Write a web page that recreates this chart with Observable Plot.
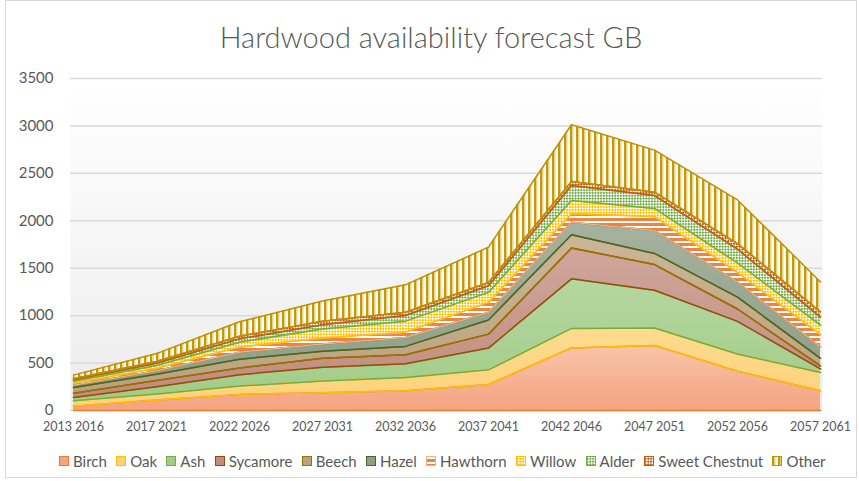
<!DOCTYPE html>
<html><head><meta charset="utf-8">
<script src="https://cdn.jsdelivr.net/npm/d3@7"></script>
<script src="https://cdn.jsdelivr.net/npm/@observablehq/plot@0.6"></script>
<style>
body{margin:0;background:#fff;font-family:Lato,"Open Sans",sans-serif;}
#chart{position:relative;width:859px;height:481px;overflow:hidden;background:#fff}
#border{position:absolute;left:5px;top:0px;width:852px;height:478px;border:1px solid #d9d9d9;box-sizing:border-box}
#title{position:absolute;top:19px;left:5px;width:852px;text-align:center;font-size:29px;font-weight:300;color:#595959;line-height:36px}
#plot{position:absolute;top:60px;left:0}
#legend{position:absolute;top:452px;left:59px;display:flex;align-items:center;font-size:15px;color:#595959;white-space:nowrap}
#legend .item{display:flex;align-items:center;margin-right:9.3px}
#legend svg{margin-right:4px}
</style>
</head><body>
<svg width="0" height="0" style="position:absolute">
<defs>
<linearGradient id="bg" x1="0" y1="0" x2="0" y2="1"><stop offset="0" stop-color="#ffffff"/><stop offset="1" stop-color="#ececec"/></linearGradient>
<linearGradient id="gBirch" x1="0" y1="0" x2="0" y2="1"><stop offset="0" stop-color="#F8C4AA"/><stop offset="1" stop-color="#F4A47F"/></linearGradient>
<linearGradient id="gOak" x1="0" y1="0" x2="0" y2="1"><stop offset="0" stop-color="#FEDB90"/><stop offset="1" stop-color="#FDD27A"/></linearGradient>
<linearGradient id="gAsh" x1="0" y1="0" x2="0" y2="1"><stop offset="0" stop-color="#B5D7A0"/><stop offset="1" stop-color="#A2CC88"/></linearGradient>
<linearGradient id="gSyc" x1="0" y1="0" x2="0" y2="1"><stop offset="0" stop-color="#D0A79C"/><stop offset="1" stop-color="#C08C7C"/></linearGradient>
<linearGradient id="gBeech" x1="0" y1="0" x2="0" y2="1"><stop offset="0" stop-color="#CCB698"/><stop offset="1" stop-color="#BBA27E"/></linearGradient>
<linearGradient id="gHazel" x1="0" y1="0" x2="0" y2="1"><stop offset="0" stop-color="#A5B29F"/><stop offset="1" stop-color="#8E9E87"/></linearGradient>
<pattern id="pHaw" width="8" height="5" patternUnits="userSpaceOnUse"><rect width="8" height="5" fill="#EE8443"/><rect y="1" width="8" height="2" fill="#ffffff"/></pattern>
<pattern id="pWil" width="4" height="4" patternUnits="userSpaceOnUse" patternTransform="rotate(45)"><rect width="4" height="4" fill="#FFC000"/><rect width="2" height="2" fill="#fff"/><rect x="2" y="2" width="2" height="2" fill="#fff"/></pattern>
<pattern id="pAld" width="4" height="4" patternUnits="userSpaceOnUse" patternTransform="rotate(45)"><rect width="4" height="4" fill="#70AD47"/><rect width="2" height="2" fill="#fff"/><rect x="2" y="2" width="2" height="2" fill="#fff"/></pattern>
<pattern id="pSC" width="4" height="4" patternUnits="userSpaceOnUse" patternTransform="rotate(45)"><rect width="4" height="4" fill="#C55A11"/><rect width="2" height="2" fill="#fff"/><rect x="2" y="2" width="2" height="2" fill="#fff"/></pattern>
<pattern id="pOth" width="6" height="10" patternUnits="userSpaceOnUse"><rect width="6" height="10" fill="#ffffff"/><rect width="2" height="10" fill="#C49A00"/><rect x="2" width="1.5" height="10" fill="#E6D08A"/></pattern>
</defs>
</svg>
<div id="chart">
<div id="border"></div>
<div id="title">Hardwood availability forecast GB</div>
<div id="plot"></div>
<div id="legend"></div>
</div>
<script>
const periods = ["2013 2016","2017 2021","2022 2026","2027 2031","2032 2036","2037 2041","2042 2046","2047 2051","2052 2056","2057 2061"];
const speciesNames = ["Birch","Oak","Ash","Sycamore","Beech","Hazel","Hawthorn","Willow","Alder","Sweet Chestnut","Other"];
const birch = [45, 110, 170, 188, 207, 274, 660, 685, 415, 208];
const oak = [58, 65, 88, 122, 140, 155, 205, 185, 180, 192];
const ash = [35, 75, 120, 147, 145, 229, 523, 398, 345, 39];
const sycamore = [45, 66, 70, 93, 96, 147, 325, 270, 130, 31];
const beech = [60, 67, 92, 75, 88, 150, 140, 118, 125, 80];
const hazel = [22, 37, 75, 75, 94, 80, 132, 242, 160, 120];
const hawthorn = [23, 25, 53, 65, 56, 105, 88, 147, 100, 130];
const willow = [20, 29, 52, 95, 116, 105, 141, 85, 100, 100];
const alder = [15, 25, 35, 45, 59, 70, 158, 136, 145, 85];
const sweetChestnut = [12, 18, 27, 35, 35, 35, 43, 35, 60, 55];
const other = [38, 83, 153, 215, 289, 372, 597, 444, 460, 315];
const yTicks = [0, 500, 1000, 1500, 2000, 2500, 3000, 3500];

const seriesValues = [birch, oak, ash, sycamore, beech, hazel, hawthorn, willow, alder, sweetChestnut, other];
const fills = ["url(#gBirch)","url(#gOak)","url(#gAsh)","url(#gSyc)","url(#gBeech)","url(#gHazel)","url(#pHaw)","url(#pWil)","url(#pAld)","url(#pSC)","url(#pOth)"];
const lines = ["#ED7D31","#FFC000","#70AD47","#9E480E","#997300","#43682B","#F4B183","#FFC000","#70AD47","#C55A11","#BF9000"];
const swatch = ["#F4A47F","#FFD27A","#A2CC88","#C08C7C","#BBA27E","#8E9E87","url(#pHaw)","url(#pWil)","url(#pAld)","url(#pSC)","url(#pOth)"];
const fillOf = Object.fromEntries(speciesNames.map((s,i)=>[s,fills[i]]));
const lineOf = Object.fromEntries(speciesNames.map((s,i)=>[s,lines[i]]));

const data = periods.flatMap((p, i) => speciesNames.map((s, j) => ({period: p, species: s, value: seriesValues[j][i]})));

const chart = Plot.plot({
  width: 859, height: 380,
  marginLeft: 70, marginRight: 37, marginTop: 18, marginBottom: 30,
  style: {color: "#595959", fontFamily: "Lato, 'Open Sans', sans-serif", background: "transparent"},
  x: {type: "point", domain: periods, padding: 0, label: null},
  y: {domain: [0, 3500], label: null},
  color: {type: "identity"},
  marks: [
    Plot.frame({fill: "url(#bg)", stroke: "none"}),
    Plot.gridY(yTicks.filter(d => d > 0), {stroke: "#d9d9d9", strokeOpacity: 1, strokeWidth: 1.5}),
    Plot.ruleY([0], {stroke: "#d9d9d9", strokeWidth: 1.5}),
    Plot.areaY(data, Plot.stackY({x: "period", y: "value", z: "species", fill: d => fillOf[d.species]})),
    Plot.lineY(data, Plot.stackY2({x: "period", y: "value", z: "species", stroke: d => lineOf[d.species], strokeWidth: 1.5})),
    Plot.lineY(data, Plot.stackY1({x: "period", y: "value", z: "species", stroke: d => lineOf[d.species], strokeWidth: 1.5})),
    Plot.axisY({ticks: yTicks, tickFormat: d => String(d), tickSize: 0, tickPadding: 17, fontSize: 15, label: null}),
    Plot.axisX({tickSize: 0, tickPadding: 12, fontSize: 12.5, label: null})
  ]
});
document.getElementById("plot").appendChild(chart);

const legend = document.getElementById("legend");
speciesNames.forEach((s, i) => {
  const item = document.createElement("div");
  item.className = "item";
  item.innerHTML = `<svg width="10" height="10"><rect x="0.5" y="0.5" width="9" height="9" fill="${swatch[i]}" stroke="${lines[i]}" stroke-width="1"/></svg><span>${s}</span>`;
  legend.appendChild(item);
});
</script>
</body></html>
